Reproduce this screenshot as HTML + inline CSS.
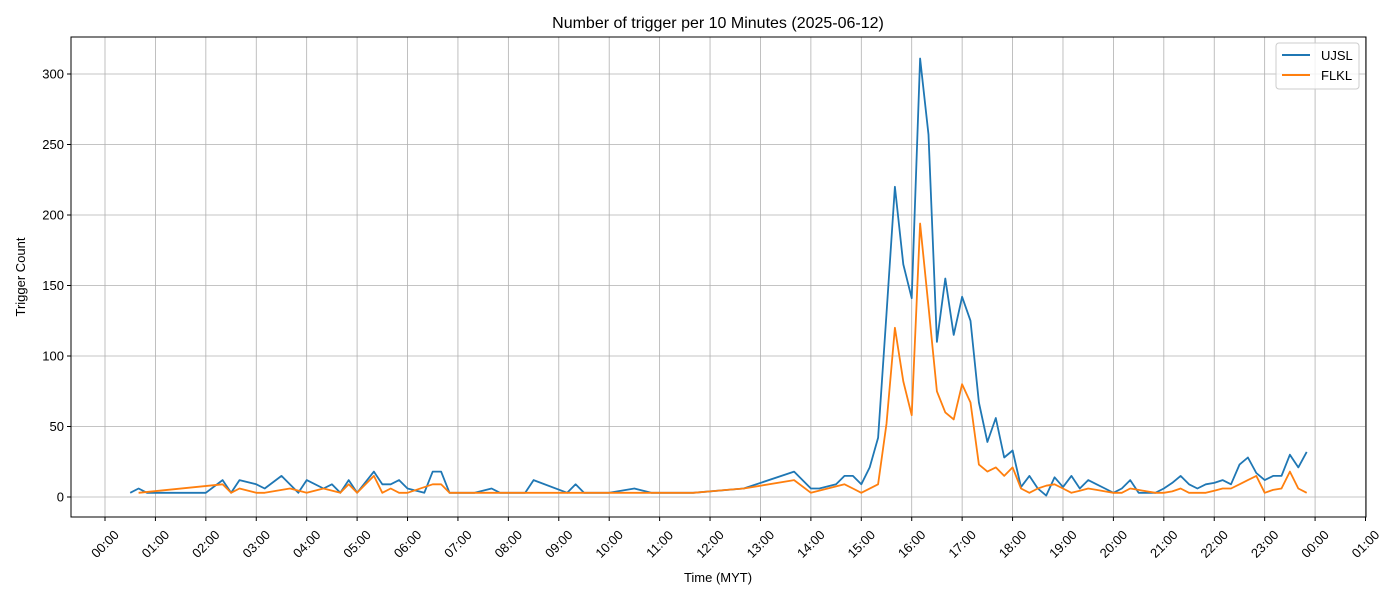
<!DOCTYPE html>
<html><head><meta charset="utf-8">
<style>
body{margin:0;background:#fff;}
svg{display:block;font-family:"Liberation Sans","DejaVu Sans",sans-serif;}
</style></head>
<body>
<svg id="chart" width="1400" height="600" viewBox="0 0 1400 600" xmlns="http://www.w3.org/2000/svg">
<rect width="1400" height="600" fill="#fff"/>
<text x="718" y="28" font-size="16" text-anchor="middle" fill="#000">Number of trigger per 10 Minutes (2025-06-12)</text>
<g id="grid"></g>
<g id="series"></g>
<rect x="71" y="37" width="1295" height="480" fill="none" stroke="#000" stroke-width="1"/>
<g id="axes"></g>
<text x="718" y="582" font-size="13" text-anchor="middle">Time (MYT)</text>
<text x="0" y="0" font-size="13" text-anchor="middle" transform="translate(25,277) rotate(-90)">Trigger Count</text>
<g>
<rect x="1276" y="43" width="83" height="46" rx="3" fill="#fff" fill-opacity="0.8" stroke="#ccc"/>
<line x1="1282" y1="55" x2="1310" y2="55" stroke="#1f77b4" stroke-width="2"/>
<text x="1321" y="60" font-size="13">UJSL</text>
<line x1="1282" y1="75" x2="1310" y2="75" stroke="#ff7f0e" stroke-width="2"/>
<text x="1321" y="80" font-size="13">FLKL</text>
</g>
</svg>
<script>
const xTickLabels = ["00:00","01:00","02:00","03:00","04:00","05:00","06:00","07:00","08:00","09:00","10:00","11:00","12:00","13:00","14:00","15:00","16:00","17:00","18:00","19:00","20:00","21:00","22:00","23:00","00:00","01:00"];
const yTicks = [0,50,100,150,200,250,300];
const ujslTimes = ["00:30","00:40","00:50","02:00","02:20","02:30","02:40","03:00","03:10","03:30","03:50","04:00","04:20","04:30","04:40","04:50","05:00","05:20","05:30","05:40","05:50","06:00","06:20","06:30","06:40","06:50","07:20","07:40","07:50","08:20","08:30","09:10","09:20","09:30","10:00","10:30","10:50","11:40","12:40","13:40","14:00","14:10","14:30","14:40","14:50","15:00","15:10","15:20","15:30","15:40","15:50","16:00","16:10","16:20","16:30","16:40","16:50","17:00","17:10","17:20","17:30","17:40","17:50","18:00","18:10","18:20","18:30","18:40","18:50","19:00","19:10","19:20","19:30","19:40","19:50","20:00","20:10","20:20","20:30","20:40","20:50","21:00","21:10","21:20","21:30","21:40","21:50","22:00","22:10","22:20","22:30","22:40","22:50","23:00","23:10","23:20","23:30","23:40","23:50"];
const ujslValues = [3,6,3,3,12,3,12,9,6,15,3,12,6,9,3,12,3,18,9,9,12,6,3,18,18,3,3,6,3,3,12,3,9,3,3,6,3,3,6,18,6,6,9,15,15,9,21,42,130,220,165,141,311,257,110,155,115,142,125,67,39,56,28,33,7,15,6,1,14,7,15,6,12,9,6,3,6,12,3,3,3,6,10,15,9,6,9,10,12,9,23,28,17,12,15,15,30,21,32];
const flklTimes = ["00:40","02:20","02:30","02:40","03:00","03:10","03:40","04:00","04:20","04:40","04:50","05:00","05:20","05:30","05:40","05:50","06:00","06:30","06:40","06:50","11:40","12:00","12:20","12:40","13:40","14:00","14:40","14:50","15:00","15:20","15:30","15:40","15:50","16:00","16:10","16:20","16:30","16:40","16:50","17:00","17:10","17:20","17:30","17:40","17:50","18:00","18:10","18:20","18:30","18:40","18:50","19:00","19:10","19:20","19:30","19:40","19:50","20:00","20:10","20:20","20:30","20:40","20:50","21:00","21:10","21:20","21:30","21:40","21:50","22:00","22:10","22:20","22:30","22:40","22:50","23:00","23:10","23:20","23:30","23:40","23:50"];
const flklValues = [3,9,3,6,3,3,6,3,6,3,9,3,15,3,6,3,3,9,9,3,3,4,5,6,12,3,9,6,3,9,52,120,82,58,194,135,75,60,55,80,67,23,18,21,15,21,6,3,6,8,9,6,3,4.5,6,5,4,3,3,6,5,4,3,3,4,6,3,3,3,4.5,6,6,9,12,15,3,5,6,18,6,3];

const NS="http://www.w3.org/2000/svg";
const L=71,R=1366,T=37,B=517;
const x0=105, pxPerMin=50.42/60;
function toMin(s){const p=s.split(":");return +p[0]*60+ +p[1];}
function xs(m){return x0+m*pxPerMin;}
function ys(v){return 497-v*(423/300);}
function mk(tag,attrs,parent){const e=document.createElementNS(NS,tag);for(const k in attrs)e.setAttribute(k,attrs[k]);parent.appendChild(e);return e;}
const grid=document.getElementById('grid'),axes=document.getElementById('axes'),ser=document.getElementById('series');
xTickLabels.forEach((lab,i)=>{
  const x=xs(i*60);
  const g=mk('line',{x1:x,x2:x,y1:T,y2:B,stroke:'#b0b0b0','stroke-width':0.8},grid);
  
  
  const t=mk('line',{x1:x,x2:x,y1:B,y2:B+4,stroke:'#000'},axes);
  
  
  const tx=mk('text',{x:0,y:4.5,'font-size':13,'text-anchor':'middle',transform:`translate(${x},${B+27}) rotate(-45)`},axes);
  tx.textContent=lab;
  
  
});
yTicks.forEach(v=>{
  const y=ys(v);
  const g=mk('line',{x1:L,x2:R,y1:y,y2:y,stroke:'#b0b0b0','stroke-width':0.8},grid);
  
  
  const t=mk('line',{x1:L-4,x2:L,y1:y,y2:y,stroke:'#000'},axes);
  
  
  const tx=mk('text',{x:L-7,y:y+4.5,'font-size':13,'text-anchor':'end'},axes);
  tx.textContent=v;
  
  
});
function line(times,vals,color,name){
  const pts=times.map((t,i)=>xs(toMin(t)).toFixed(1)+','+ys(vals[i]).toFixed(1)).join(' ');
  const p=mk('polyline',{points:pts,fill:'none',stroke:color,'stroke-width':1.8,'stroke-linejoin':'round'},ser);
  
  
}
line(ujslTimes,ujslValues,'#1f77b4','ujsl-line');
line(flklTimes,flklValues,'#ff7f0e','flkl-line');
</script>
</body></html>
